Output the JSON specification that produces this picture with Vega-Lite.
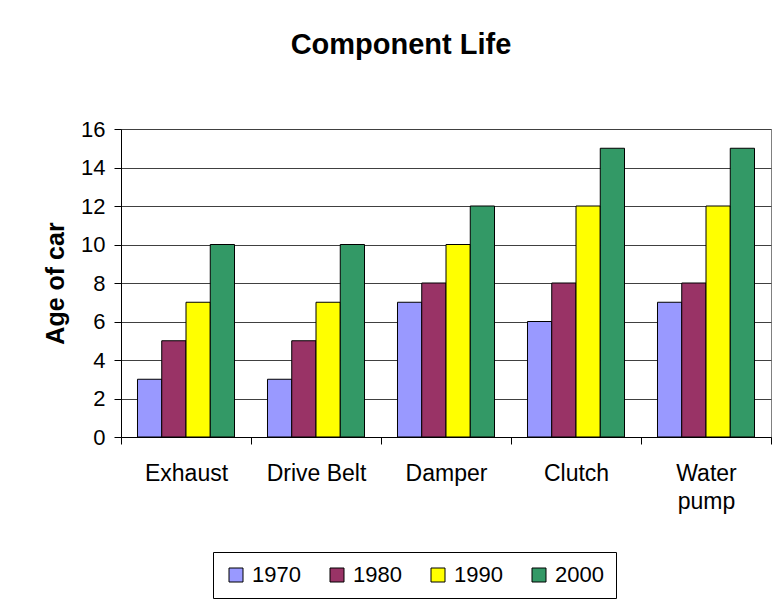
{
  "$schema": "https://vega.github.io/schema/vega-lite/v6.json",
  "width": 650,
  "height": 308,
  "autosize": {"type": "none"},
  "padding": {"left": 121, "top": 129, "right": 8, "bottom": 170},
  "background": "white",
  "title": {
    "text": "Component Life",
    "font": "Liberation Sans",
    "fontSize": 29,
    "fontWeight": "bold",
    "color": "black",
    "anchor": "middle",
    "dx": -45,
    "offset": 58
  },
  "data": {
    "values": [
      {"component": "Exhaust", "year": "1970", "age": 3},
      {"component": "Exhaust", "year": "1980", "age": 5},
      {"component": "Exhaust", "year": "1990", "age": 7},
      {"component": "Exhaust", "year": "2000", "age": 10},
      {"component": "Drive Belt", "year": "1970", "age": 3},
      {"component": "Drive Belt", "year": "1980", "age": 5},
      {"component": "Drive Belt", "year": "1990", "age": 7},
      {"component": "Drive Belt", "year": "2000", "age": 10},
      {"component": "Damper", "year": "1970", "age": 7},
      {"component": "Damper", "year": "1980", "age": 8},
      {"component": "Damper", "year": "1990", "age": 10},
      {"component": "Damper", "year": "2000", "age": 12},
      {"component": "Clutch", "year": "1970", "age": 6},
      {"component": "Clutch", "year": "1980", "age": 8},
      {"component": "Clutch", "year": "1990", "age": 12},
      {"component": "Clutch", "year": "2000", "age": 15},
      {"component": "Water pump", "year": "1970", "age": 7},
      {"component": "Water pump", "year": "1980", "age": 8},
      {"component": "Water pump", "year": "1990", "age": 12},
      {"component": "Water pump", "year": "2000", "age": 15}
    ]
  },
  "mark": {"type": "bar", "stroke": "black", "strokeWidth": 1, "opacity": 1},
  "encoding": {
    "x": {
      "field": "component",
      "type": "nominal",
      "sort": ["Exhaust", "Drive Belt", "Damper", "Clutch", "Water pump"],
      "scale": {"paddingInner": 0, "paddingOuter": 0},
      "axis": {
        "title": null,
        "labelAngle": 0,
        "labelFont": "Liberation Sans",
        "labelFontSize": 23,
        "labelColor": "black",
        "labelPadding": 18,
        "labelLineHeight": 28,
        "labelBaseline": "top",
        "labelExpr": "datum.label == 'Water pump' ? ['Water', 'pump'] : datum.label",
        "bandPosition": 0,
        "tickBand": "extent",
        "ticks": true,
        "tickSize": 7,
        "tickColor": "black",
        "domainColor": "black",
        "grid": false
      }
    },
    "xOffset": {
      "field": "year",
      "type": "nominal",
      "scale": {"paddingInner": 0, "paddingOuter": 0.68}
    },
    "y": {
      "field": "age",
      "type": "quantitative",
      "scale": {"domain": [0, 16], "nice": false},
      "axis": {
        "title": "Age of car",
        "titleFont": "Liberation Sans",
        "titleFontSize": 25,
        "titleFontWeight": "bold",
        "titleColor": "black",
        "titlePadding": 12,
        "values": [0, 2, 4, 6, 8, 10, 12, 14, 16],
        "labelFont": "Liberation Sans",
        "labelFontSize": 22,
        "labelColor": "black",
        "labelPadding": 9,
        "tickSize": 7,
        "tickColor": "black",
        "domainColor": "black",
        "grid": true,
        "gridColor": "#404040",
        "gridWidth": 1
      }
    },
    "color": {
      "field": "year",
      "type": "nominal",
      "scale": {
        "domain": ["1970", "1980", "1990", "2000"],
        "range": ["#9999FF", "#993366", "#FFFF00", "#339966"]
      },
      "legend": {
        "title": null,
        "orient": "none",
        "direction": "horizontal",
        "legendX": 92,
        "legendY": 423,
        "symbolType": "square",
        "symbolSize": 196,
        "symbolStrokeColor": "black",
        "symbolStrokeWidth": 1,
        "symbolOpacity": 1,
        "labelFont": "Liberation Sans",
        "labelFontSize": 22,
        "labelColor": "black",
        "labelOffset": 5,
        "columnPadding": 25,
        "padding": 12,
        "strokeColor": "black",
        "fillColor": "white"
      }
    }
  },
  "config": {
    "view": {"stroke": "#808080", "strokeWidth": 1}
  }
}
